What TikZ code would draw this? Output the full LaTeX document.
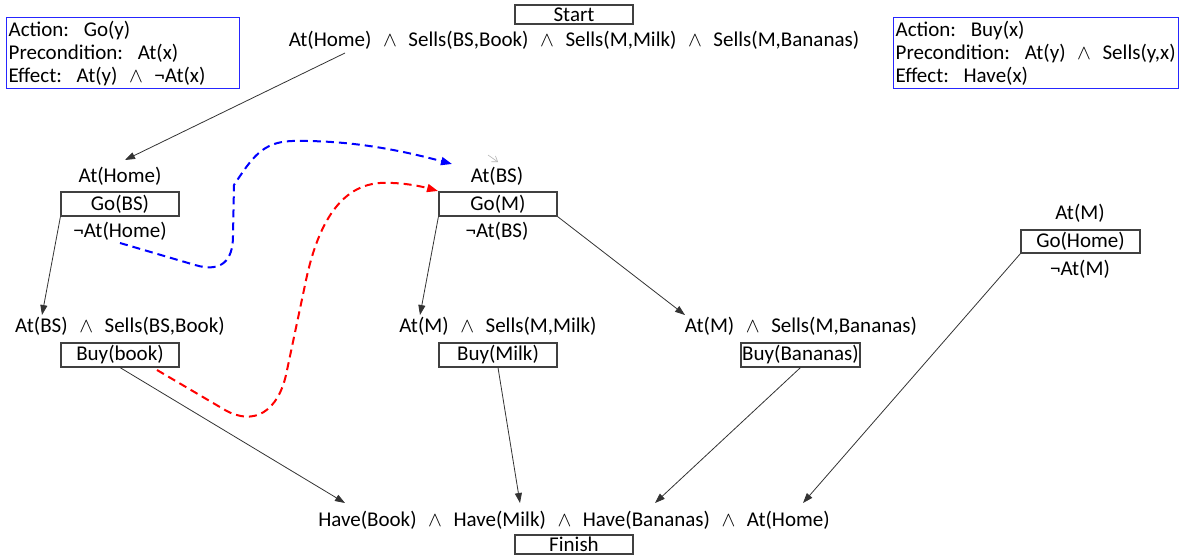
\documentclass[tikz,border=0pt]{standalone}
\usepackage{fontspec}
\setmainfont{Carlito}
\usetikzlibrary{arrows.meta}
% logical connectives with the wide spacing used throughout the plan
\newcommand{\conj}{\hspace{0.55em}$\wedge$\hspace{0.55em}}
\newcommand{\lnt}{¬}
\begin{document}
\begin{tikzpicture}[x=1pt,y=-1pt,
  every node/.style={font=\fontsize{21}{23}\selectfont, inner sep=0pt, text=black},
  actbox/.style={draw=black!75, line width=1.1pt, minimum width=118pt, minimum height=24pt},
  endbox/.style={draw=black!75, line width=1.1pt, minimum width=118pt, minimum height=19pt},
  defbox/.style={draw=blue!85, line width=1.3pt, anchor=north west, minimum height=71pt,
    align=left, inner xsep=2pt},
  link/.style={draw=black!80, line width=0.8pt, -{Triangle[length=10pt,width=7pt]}},
  threat/.style={line width=2pt, dash pattern=on 8pt off 5pt,
    -{Triangle[length=11pt,width=8pt]}},
]
\useasboundingbox (0,0) rectangle (1179,555);

% operator schemas
\node[defbox, minimum width=233pt, text width=229pt] (godef) at (6,17)
  {Action:\hspace{0.7em}Go(y)\\Precondition:\hspace{0.7em}At(x)\\Effect:\hspace{0.7em}At(y)\conj\lnt At(x)};
\node[defbox, minimum width=285pt, text width=281pt] (buydef) at (893,17)
  {Action:\hspace{0.7em}Buy(x)\\Precondition:\hspace{0.7em}At(y)\conj Sells(y,x)\\Effect:\hspace{0.7em}Have(x)};

% start and finish
\node[endbox] (start) at (574,14.5) {Start};
\node (init) at (574,40) {At(Home)\conj Sells(BS,Book)\conj Sells(M,Milk)\conj Sells(M,Bananas)};
\node (goal) at (574,520) {Have(Book)\conj Have(Milk)\conj Have(Bananas)\conj At(Home)};
\node[endbox] (finish) at (574,544.5) {Finish};

% Go(BS)
\node (pgobs) at (120,176) {At(Home)};
\node[actbox] (gobs) at (120,204) {Go(BS)};
\node (egobs) at (120,231) {\lnt At(Home)};

% Go(M)
\node (pgom) at (497,176) {At(BS)};
\node[actbox] (gom) at (498,204) {Go(M)};
\node (egom) at (497,231) {\lnt At(BS)};

% Go(Home)
\node (pgoh) at (1080,213) {At(M)};
\node[actbox, minimum width=119pt, minimum height=23pt] (goh) at (1080.5,241.5) {Go(Home)};
\node (egoh) at (1080,269) {\lnt At(M)};

% Buy actions
\node (pbook) at (120,326) {At(BS)\conj Sells(BS,Book)};
\node[actbox] (buybook) at (120,355) {Buy(book)};
\node (pmilk) at (498,326) {At(M)\conj Sells(M,Milk)};
\node[actbox] (buymilk) at (498,355) {Buy(Milk)};
\node (pban) at (801,326) {At(M)\conj Sells(M,Bananas)};
\node[actbox, minimum width=119pt] (buyban) at (800.5,355) {Buy(Bananas)};

% free ends of the causal links
\coordinate (i1) at (345,53);
\coordinate (t1) at (125,160);
\coordinate (t2) at (42,315);
\coordinate (t3) at (420,315);
\coordinate (t4) at (685,315);
\coordinate (g1) at (345,503);
\coordinate (g2) at (520,503);
\coordinate (g3) at (655,503);
\coordinate (g4) at (803,503);

\draw[link] (i1) -- (t1);
\draw[link] (gobs.south west) -- (t2);
\draw[link] (gom.south west) -- (t3);
\draw[link] (gom.south east) -- (t4);
\draw[link] (buybook.south) -- (g1);
\draw[link] (buymilk.south) -- (g2);
\draw[link] (buyban.south) -- (g3);
\draw[link] (goh.south west) -- (g4);

% ordering constraints
\coordinate (b0) at (120,243);
\coordinate (b1) at (452,164);
\draw[threat, blue] (b0) -- (195,265) .. controls (222,273) and (233,260) .. (233,236)
  -- (234,185) .. controls (252,158) and (262,142) .. (292,141) .. controls (350,140) and (400,150) .. (b1);
\coordinate (r0) at (157,370);
\coordinate (r1) at (438,191);
\draw[threat, red] (r0) -- (225,410) .. controls (255,427) and (278,410) .. (286,375)
  -- (305,285) .. controls (315,235) and (335,186) .. (380,183) .. controls (400,182) and (420,186) .. (r1);

% faint stray tip above At(BS)
\coordinate (s0) at (488,155);
\coordinate (s1) at (498,162);
\draw[black!30, line width=0.6pt, -{Straight Barb[length=5pt,width=7pt]}] (s0) -- (s1);
\end{tikzpicture}
\end{document}
